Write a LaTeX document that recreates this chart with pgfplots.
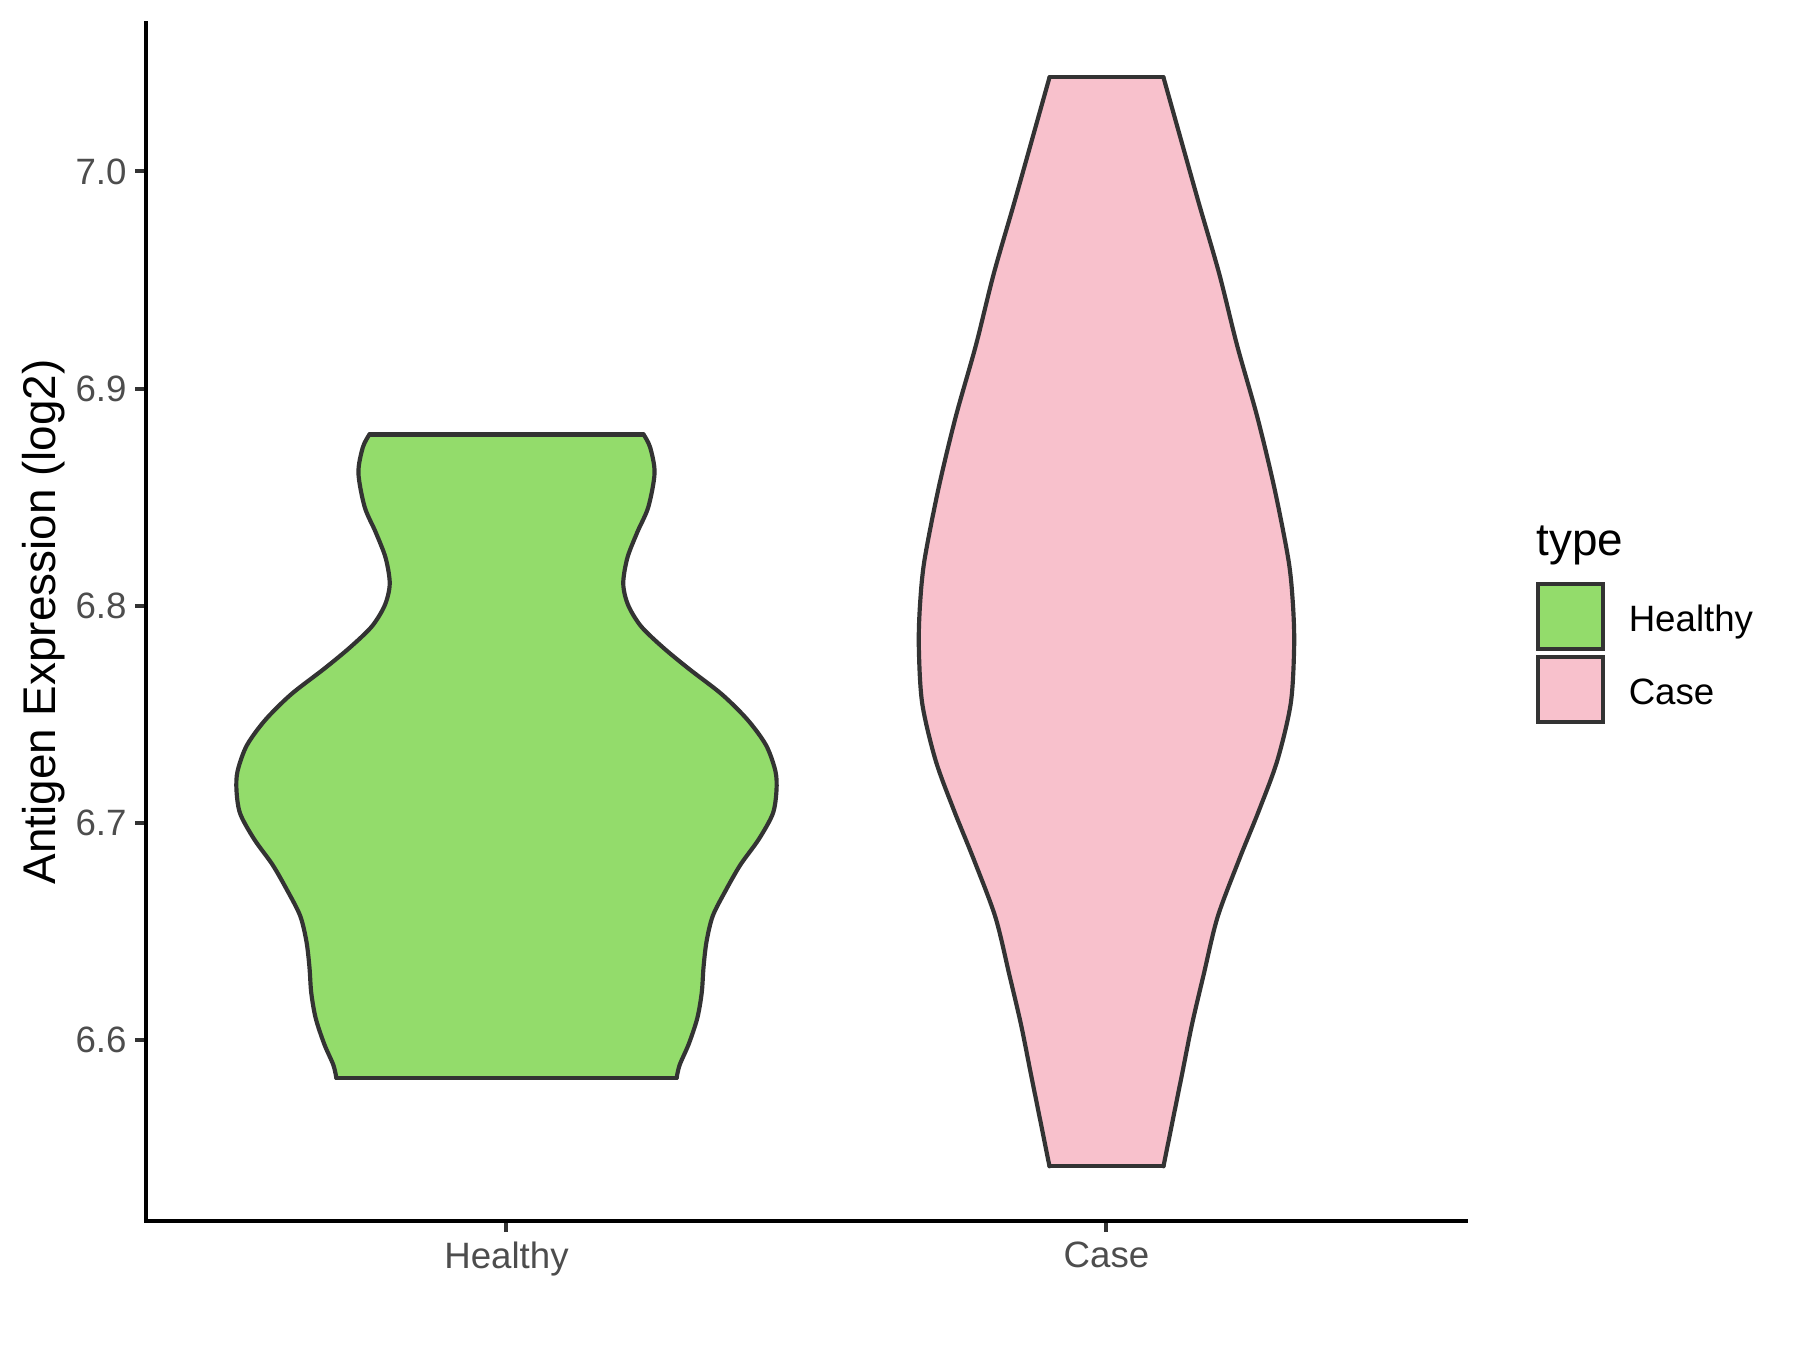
\documentclass[border=0pt]{standalone}
\usepackage{fontspec}
\setmainfont{Liberation Sans}
\usepackage{pgfplots}
\pgfplotsset{compat=1.18}
\definecolor{healthy}{RGB}{147,220,107}
\definecolor{casec}{RGB}{248,193,204}
\definecolor{gtwenty}{RGB}{51,51,51}
\definecolor{gtick}{RGB}{77,77,77}
\begin{document}
\begin{tikzpicture}
\useasboundingbox (-35.16pt,-31.0pt) rectangle (396.84pt,293.0pt);
\begin{axis}[
  scale only axis, width=316.8pt, height=287.5pt,
  at={(0pt,0pt)}, anchor=south west,
  xmin=0.4, xmax=2.6, ymin=6.5168, ymax=7.0684,
  clip=false,
  axis x line=bottom, axis y line=left,
  axis line style={-, black, line width=0.96pt, line cap=rect},
  xtick={1,2}, xticklabels={Healthy,Case},
  ytick={6.6,6.7,6.8,6.9,7.0},
  minor tick num=0,
  tick align=outside, major tick length=2.7pt,
  tick style={gtwenty, line width=0.96pt},
  /pgf/number format/.cd, assume math mode=true, fixed, fixed zerofill, precision=1, /pgfplots/.cd,
  ticklabel style={font=\fontsize{8.8}{10}\selectfont, text=gtick, inner sep=0pt},
  xticklabel style={yshift=-2.2pt},
  yticklabel style={xshift=-1.9pt},
  ylabel={Antigen Expression (log2)},
  ylabel style={at={(axis description cs:-0.0690,0.5)}, anchor=base, font=\fontsize{11}{13}\selectfont, inner sep=0pt},
  legend style={draw=none, fill=none, at={(axis description cs:1.0530,0.5334)}, anchor=north west,
    inner sep=0pt, outer sep=0pt, row sep=1.1pt, column sep=5.6pt,
    font=\fontsize{8.8}{10}\selectfont, nodes={inner sep=0pt, text=black, yshift=-1.1pt}},
  legend cell align=left,
  legend image code/.code={\draw[#1, line width=0.96pt] (0pt,-7.8pt) rectangle (15.6pt,7.8pt);},
]
% ---------- Healthy ----------
\addplot[draw=none, fill=healthy, forget plot] coordinates {
(1.2284,6.8789) (1.2394,6.8730) (1.2468,6.8612) (1.2364,6.8455) (1.2179,6.8338) (1.2014,6.8220) (1.1946,6.8102) (1.2026,6.8004) (1.2241,6.7906) (1.2609,6.7808) (1.3039,6.7710) (1.3591,6.7592) (1.4021,6.7474) (1.4328,6.7357) (1.4482,6.7239) (1.4500,6.7150) (1.4439,6.7043) (1.4205,6.6925) (1.3898,6.6807) (1.3653,6.6689) (1.3438,6.6572) (1.3334,6.6454) (1.3284,6.6336) (1.3254,6.6218) (1.3180,6.6101) (1.3039,6.5983) (1.2885,6.5885) (1.2836,6.5826)
(0.7164,6.5826) (0.7115,6.5885) (0.6961,6.5983) (0.6820,6.6101) (0.6746,6.6218) (0.6716,6.6336) (0.6666,6.6454) (0.6562,6.6572) (0.6347,6.6689) (0.6102,6.6807) (0.5795,6.6925) (0.5561,6.7043) (0.5500,6.7150) (0.5518,6.7239) (0.5672,6.7357) (0.5979,6.7474) (0.6409,6.7592) (0.6961,6.7710) (0.7391,6.7808) (0.7759,6.7906) (0.7974,6.8004) (0.8054,6.8102) (0.7986,6.8220) (0.7821,6.8338) (0.7636,6.8455) (0.7532,6.8612) (0.7606,6.8730) (0.7716,6.8789)
} -- cycle;
\addplot[gtwenty, line width=1pt, smooth, line cap=round, line join=round, forget plot] coordinates {
(1.2284,6.8789) (1.2394,6.8730) (1.2468,6.8612) (1.2364,6.8455) (1.2179,6.8338) (1.2014,6.8220) (1.1946,6.8102) (1.2026,6.8004) (1.2241,6.7906) (1.2609,6.7808) (1.3039,6.7710) (1.3591,6.7592) (1.4021,6.7474) (1.4328,6.7357) (1.4482,6.7239) (1.4500,6.7150) (1.4439,6.7043) (1.4205,6.6925) (1.3898,6.6807) (1.3653,6.6689) (1.3438,6.6572) (1.3334,6.6454) (1.3284,6.6336) (1.3254,6.6218) (1.3180,6.6101) (1.3039,6.5983) (1.2885,6.5885) (1.2836,6.5826)
};
\addplot[gtwenty, line width=1pt, smooth, line cap=round, line join=round, forget plot] coordinates {
(0.7164,6.5826) (0.7115,6.5885) (0.6961,6.5983) (0.6820,6.6101) (0.6746,6.6218) (0.6716,6.6336) (0.6666,6.6454) (0.6562,6.6572) (0.6347,6.6689) (0.6102,6.6807) (0.5795,6.6925) (0.5561,6.7043) (0.5500,6.7150) (0.5518,6.7239) (0.5672,6.7357) (0.5979,6.7474) (0.6409,6.7592) (0.6961,6.7710) (0.7391,6.7808) (0.7759,6.7906) (0.7974,6.8004) (0.8054,6.8102) (0.7986,6.8220) (0.7821,6.8338) (0.7636,6.8455) (0.7532,6.8612) (0.7606,6.8730) (0.7716,6.8789)
};
\addplot[gtwenty, line width=1pt, line cap=round, forget plot] coordinates {(0.7716,6.8789) (1.2284,6.8789)};
\addplot[gtwenty, line width=1pt, line cap=round, forget plot] coordinates {(0.7164,6.5826) (1.2836,6.5826)};
% ---------- Case ----------
\addplot[draw=none, fill=casec, forget plot] coordinates {
(2.0950,7.0433) (2.1201,7.0186) (2.1536,6.9857) (2.1880,6.9528) (2.2178,6.9198) (2.2514,6.8869) (2.2800,6.8540) (2.3033,6.8211) (2.3106,6.8013) (2.3128,6.7816) (2.3072,6.7552) (2.2849,6.7289) (2.2542,6.7058) (2.2206,6.6828) (2.1850,6.6565) (2.1620,6.6302) (2.1424,6.6071) (2.1257,6.5840) (2.1089,6.5610) (2.0950,6.5419)
(1.9050,6.5419) (1.8911,6.5610) (1.8743,6.5840) (1.8576,6.6071) (1.8380,6.6302) (1.8150,6.6565) (1.7794,6.6828) (1.7458,6.7058) (1.7151,6.7289) (1.6928,6.7552) (1.6872,6.7816) (1.6894,6.8013) (1.6967,6.8211) (1.7200,6.8540) (1.7486,6.8869) (1.7822,6.9198) (1.8120,6.9528) (1.8464,6.9857) (1.8799,7.0186) (1.9050,7.0433)
} -- cycle;
\addplot[gtwenty, line width=1pt, smooth, line cap=round, line join=round, forget plot] coordinates {
(2.0950,7.0433) (2.1201,7.0186) (2.1536,6.9857) (2.1880,6.9528) (2.2178,6.9198) (2.2514,6.8869) (2.2800,6.8540) (2.3033,6.8211) (2.3106,6.8013) (2.3128,6.7816) (2.3072,6.7552) (2.2849,6.7289) (2.2542,6.7058) (2.2206,6.6828) (2.1850,6.6565) (2.1620,6.6302) (2.1424,6.6071) (2.1257,6.5840) (2.1089,6.5610) (2.0950,6.5419)
};
\addplot[gtwenty, line width=1pt, smooth, line cap=round, line join=round, forget plot] coordinates {
(1.9050,6.5419) (1.8911,6.5610) (1.8743,6.5840) (1.8576,6.6071) (1.8380,6.6302) (1.8150,6.6565) (1.7794,6.6828) (1.7458,6.7058) (1.7151,6.7289) (1.6928,6.7552) (1.6872,6.7816) (1.6894,6.8013) (1.6967,6.8211) (1.7200,6.8540) (1.7486,6.8869) (1.7822,6.9198) (1.8120,6.9528) (1.8464,6.9857) (1.8799,7.0186) (1.9050,7.0433)
};
\addplot[gtwenty, line width=1pt, line cap=round, forget plot] coordinates {(1.9050,7.0433) (2.0950,7.0433)};
\addplot[gtwenty, line width=1pt, line cap=round, forget plot] coordinates {(1.9050,6.5419) (2.0950,6.5419)};
% ---------- legend ----------
\addlegendimage{draw=gtwenty, fill=healthy}
\addlegendentry{Healthy}
\addlegendimage{draw=gtwenty, fill=casec}
\addlegendentry{Case}
\node[anchor=base west, inner sep=0pt, font=\fontsize{11}{13}\selectfont] at (axis description cs:1.0525,0.5557) {type};
\end{axis}
\end{tikzpicture}
\end{document}
